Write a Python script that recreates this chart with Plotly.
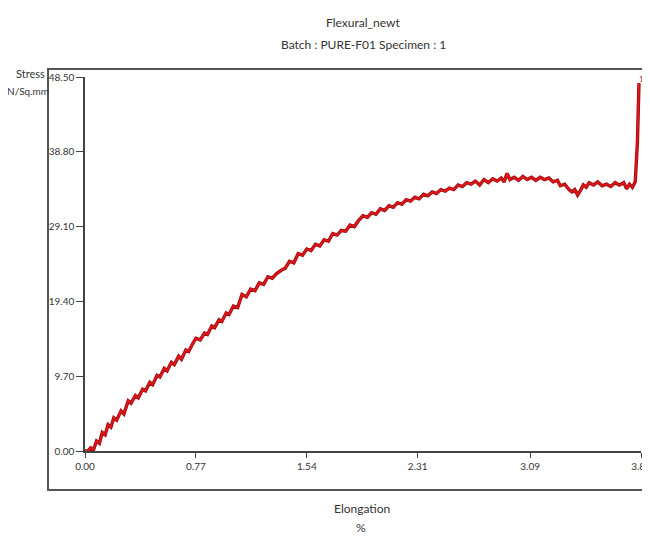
import plotly.graph_objects as go

title_main = "Flexural_newt"
title_sub = "Batch : PURE-F01 Specimen : 1"
x_title = ["Elongation", "%"]
y_title = ["Stress", "N/Sq.mm"]

x_tick_vals = [0.00, 0.77, 1.54, 2.31, 3.09, 3.86]
x_tick_text = ["0.00", "0.77", "1.54", "2.31", "3.09", "3.86"]
y_tick_vals = [0.00, 9.70, 19.40, 29.10, 38.80, 48.50]
y_tick_text = ["0.00", "9.70", "19.40", "29.10", "38.80", "48.50"]

elongation = [
    0.00, 0.02, 0.04, 0.06, 0.08, 0.10, 0.12, 0.14, 0.16, 0.18, 0.20, 0.22, 0.25, 0.27,
    0.30, 0.32, 0.35, 0.37, 0.40, 0.42, 0.45, 0.47, 0.50, 0.52, 0.55, 0.57, 0.60, 0.62,
    0.65, 0.67, 0.70, 0.72, 0.75, 0.77, 0.80, 0.83, 0.85, 0.88, 0.90, 0.93, 0.95, 0.98,
    1.00, 1.03, 1.06, 1.09, 1.12, 1.15, 1.18, 1.21, 1.24, 1.27, 1.30, 1.33, 1.36, 1.39,
    1.42, 1.45, 1.48, 1.51, 1.54, 1.57, 1.60, 1.63, 1.66, 1.69, 1.72, 1.75, 1.78, 1.81,
    1.84, 1.87, 1.90, 1.93, 1.96, 1.99, 2.02, 2.05, 2.08, 2.11, 2.14, 2.17, 2.20, 2.23,
    2.26, 2.29, 2.32, 2.35, 2.38, 2.41, 2.44, 2.47, 2.50, 2.53, 2.56, 2.59, 2.62, 2.65,
    2.68, 2.71, 2.74, 2.77, 2.80, 2.83, 2.86, 2.89, 2.91, 2.93, 2.95, 2.98, 3.01, 3.04,
    3.07, 3.10, 3.13, 3.16, 3.19, 3.22, 3.25, 3.28, 3.30, 3.33, 3.36, 3.38, 3.40, 3.42,
    3.44, 3.46, 3.48, 3.50, 3.53, 3.56, 3.59, 3.62, 3.65, 3.68, 3.71, 3.74, 3.76, 3.78,
    3.80, 3.82, 3.835, 3.846,
]
stress = [
    0.0, 0.0, 0.4, 0.2, 1.3, 1.0, 2.4, 2.1, 3.4, 3.1, 4.3, 4.0, 5.2, 4.8,
    6.5, 6.2, 7.2, 6.9, 8.0, 7.8, 8.9, 8.6, 9.8, 9.6, 10.7, 10.4, 11.5, 11.2,
    12.3, 11.9, 13.1, 12.9, 14.0, 14.6, 14.4, 15.3, 15.1, 16.2, 16.0, 17.0, 16.8, 17.9,
    17.7, 18.8, 18.6, 20.3, 20.0, 21.0, 20.8, 21.8, 21.6, 22.6, 22.4, 23.0, 23.4, 23.7,
    24.6, 24.4, 25.6, 25.4, 26.2, 26.0, 26.8, 26.6, 27.4, 27.2, 28.2, 28.0, 28.6, 28.5,
    29.3, 29.1, 29.9, 30.5, 30.3, 30.9, 30.7, 31.4, 31.2, 31.8, 31.6, 32.2, 32.0, 32.6,
    32.4, 32.9, 32.7, 33.3, 33.1, 33.6, 33.4, 33.9, 33.7, 34.1, 33.9, 34.5, 34.3, 34.8,
    34.6, 35.0, 34.5, 35.2, 34.8, 35.3, 35.0, 35.4, 34.9, 36.0, 35.2, 35.5, 35.1, 35.6,
    35.2, 35.5, 35.1, 35.5, 35.2, 35.4, 34.9, 35.1, 34.4, 34.6, 33.9, 33.6, 33.9, 33.2,
    33.8, 34.5, 34.2, 34.8, 34.5, 34.9, 34.4, 34.6, 34.3, 34.8, 34.5, 34.8, 34.0, 34.6,
    34.2, 34.9, 40.0, 47.7,
]
specimen_label = "1"

FONT = "Lato, Roboto, sans-serif"
TXT = "#333333"

# page body offsets the figure by 8 px; layout measured in window pixels
OFF = 8
W, H = 650 - OFF, 536 - OFF
L, R, T, B = 85 - OFF, 641 - OFF, 77 - OFF, 451 - OFF


def px_x(p):
    return (p - OFF - L) / (R - L)


def px_y(p):
    return (B - (p - OFF)) / (B - T)


fig = go.Figure()
fig.add_trace(go.Scatter(
    x=elongation, y=stress, mode="lines",
    line=dict(color="#9a0c0c", width=3.4), hoverinfo="skip", showlegend=False,
    cliponaxis=False,
))
fig.add_trace(go.Scatter(
    x=elongation, y=stress, mode="lines",
    line=dict(color="#e0161c", width=1.8), showlegend=False, cliponaxis=False,
))

fig.update_layout(
    width=W, height=H,
    margin=dict(l=L, r=W - R, t=T, b=H - B, pad=0, autoexpand=False),
    paper_bgcolor="white", plot_bgcolor="white",
    font=dict(family=FONT, size=11, color=TXT),
    xaxis=dict(
        range=[0, 3.86], tickvals=x_tick_vals, ticktext=x_tick_text,
        showgrid=False, zeroline=False, showline=True, linecolor="#444", linewidth=1.5,
        ticks="outside", ticklen=5, tickcolor="#444", tickwidth=1,
        tickfont=dict(family=FONT, size=10, color=TXT),
        ticklabeloverflow="allow", automargin=False,
    ),
    yaxis=dict(
        range=[0, 48.5], tickvals=y_tick_vals, ticktext=y_tick_text,
        showgrid=False, zeroline=False, showline=True, linecolor="#444", linewidth=1.5,
        ticks="outside", ticklen=7, tickcolor="#444", tickwidth=1.2,
        tickfont=dict(family=FONT, size=10, color=TXT),
        ticklabeloverflow="allow", automargin=False,
    ),
)

# outer frame
fig.add_shape(type="rect", xref="paper", yref="paper",
              x0=px_x(48), x1=px_x(665), y0=px_y(490), y1=px_y(69),
              line=dict(color="#555555", width=2), fillcolor="rgba(0,0,0,0)", layer="below")

ann = [
    (title_main, px_x(363), px_y(22), 12),
    (title_sub, px_x(363), px_y(44), 12),
    (x_title[0], px_x(362), px_y(508), 12),
    (x_title[1], px_x(361), px_y(527), 12),
    (y_title[0], px_x(30), px_y(74), 11),
    (y_title[1], px_x(28), px_y(91), 10),
]
for text, ax, ay, fs in ann:
    fig.add_annotation(text=text, x=ax, y=ay, xref="paper", yref="paper",
                       showarrow=False, xanchor="center", yanchor="middle",
                       font=dict(family=FONT, size=fs, color=TXT))

fig.add_annotation(text=specimen_label, x=elongation[-1], y=stress[-1], xref="x", yref="y",
                   showarrow=False, xshift=3, yshift=4, xanchor="center", yanchor="middle",
                   font=dict(family=FONT, size=8, color="#b02828"))

fig.write_html("out.html")
